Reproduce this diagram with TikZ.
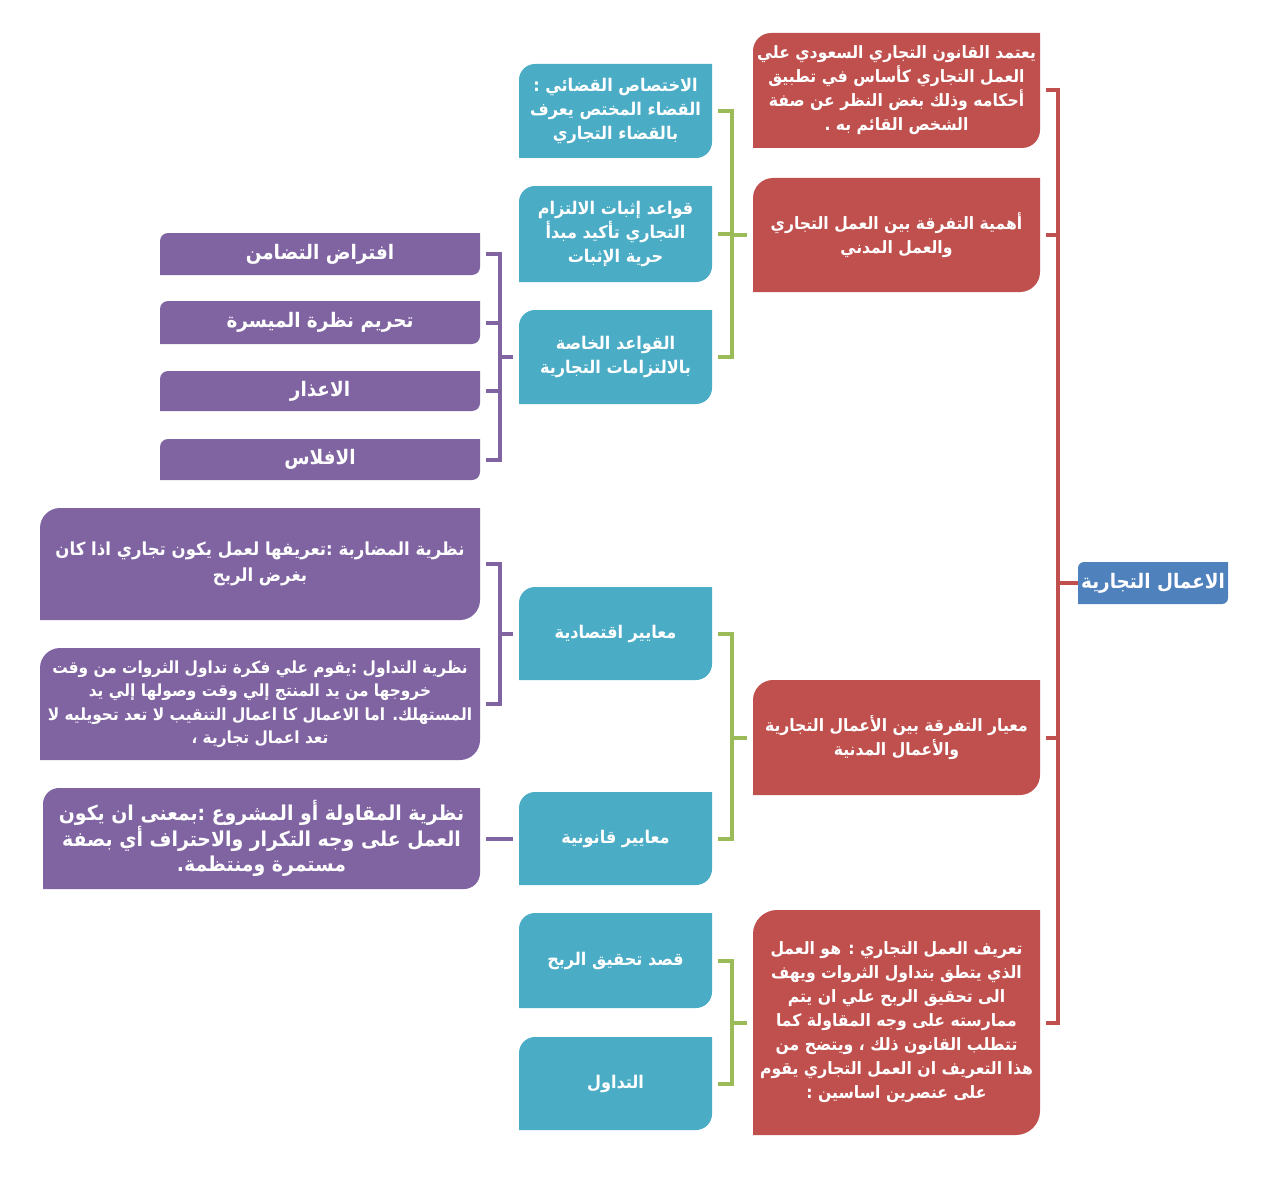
\documentclass[tikz,border=0pt]{standalone}
\usepackage{fontspec}
\newfontfamily\arabicfont[Script=Arabic,FakeStretch=0.92]{DejaVu Sans}
\TeXXeTstate=1
\usetikzlibrary{calc}
\definecolor{cred}{HTML}{C0504D}
\definecolor{ccyan}{HTML}{4BACC6}
\definecolor{cpurple}{HTML}{8064A2}
\definecolor{cgreen}{HTML}{9BBB59}
\definecolor{cblue}{HTML}{4F81BD}
\newcommand{\AR}[1]{\beginR #1\endR}
\newcommand{\fRoot}{\bfseries\fontsize{20}{24}\selectfont}
\newcommand{\fRed}{\bfseries\fontsize{17}{24}\selectfont}
\newcommand{\fCy}{\bfseries\fontsize{17.5}{24}\selectfont}
\newcommand{\fPs}{\bfseries\fontsize{20}{24}\selectfont}
\newcommand{\fPa}{\bfseries\fontsize{18}{26}\selectfont}
\newcommand{\fPb}{\bfseries\fontsize{16.7}{23.5}\selectfont}
\newcommand{\fPm}{\bfseries\fontsize{20.5}{25.5}\selectfont}
% #1 name, #2 colour, #3 radius, #4 x1, #5 y1, #6 x2, #7 y2, #8 font, #9 text
\newcommand{\leafbox}[9]{%
  \fill[#2] (#4,#5+#3) .. controls (#4,#5+0.45*#3) and (#4+0.45*#3,#5) .. (#4+#3,#5)
     -- (#6,#5) -- (#6,#7-#3) .. controls (#6,#7-0.45*#3) and (#6-0.45*#3,#7) .. (#6-#3,#7)
     -- (#4,#7) -- cycle;
  \node[boxtext, font=\arabicfont#8,
        minimum width={(#6-#4)*1pt}, minimum height={(#7-#5)*1pt}]
        (#1) at ({(#4+#6)/2},{(#5+#7)/2}) {#9};
}
\tikzset{
  boxtext/.style={text=white, align=center, inner sep=0pt},
  rline/.style={draw=cred, line width=4pt},
  gline/.style={draw=cgreen, line width=4pt},
  pline/.style={draw=cpurple, line width=4pt}
}
\begin{document}
\begin{tikzpicture}[x=1pt,y=-1pt]
\fill[white] (0,0) rectangle (1280,1196);
\useasboundingbox (0,0) rectangle (1280,1196);

% root
\leafbox{root}{cblue}{6}{1078}{562}{1228}{604}{\fRoot}{\AR{الاعمال التجارية}}

% red level
\leafbox{R1}{cred}{18}{753}{33}{1040}{148}{\fRed}{\AR{يعتمد القانون التجاري السعودي علي}\\\AR{العمل التجاري كأساس في تطبيق}\\\AR{أحكامه وذلك بغض النظر عن صفة}\\\AR{الشخص القائم به .}}
\leafbox{R2}{cred}{20}{753}{178}{1040}{292}{\fRed}{\AR{أهمية التفرقة بين العمل التجاري}\\\AR{والعمل المدني}}
\leafbox{R3}{cred}{20}{753}{680}{1040}{795}{\fRed}{\AR{معيار التفرقة بين الأعمال التجارية}\\\AR{والأعمال المدنية}}
\leafbox{R4}{cred}{24}{753}{910}{1040}{1135}{\fRed}{\AR{تعريف العمل التجاري :  هو العمل}\\\AR{الذي يتطق بتداول الثروات ويهف}\\\AR{الى تحقيق الربح علي ان يتم}\\\AR{ممارسته على وجه المقاولة  كما}\\\AR{تتطلب القانون ذلك ، ويتضح من}\\\AR{هذا التعريف ان العمل التجاري يقوم}\\\AR{على عنصرين اساسين :}}

% cyan level
\leafbox{C1}{ccyan}{16}{519}{64}{712}{158}{\fCy}{\AR{الاختصاص القضائي :}\\\AR{القضاء المختص يعرف}\\\AR{بالقضاء التجاري}}
\leafbox{C2}{ccyan}{16}{519}{186}{712}{282}{\fCy}{\AR{قواعد إثبات الالتزام}\\\AR{التجاري  تأكيد مبدأ}\\\AR{حرية الإثبات}}
\leafbox{C3}{ccyan}{16}{519}{310}{712}{404}{\fCy}{\AR{القواعد الخاصة}\\\AR{بالالتزامات التجارية}}
\leafbox{C4}{ccyan}{16}{519}{587}{712}{680}{\fCy}{\AR{معايير اقتصادية}}
\leafbox{C5}{ccyan}{16}{519}{792}{712}{885}{\fCy}{\AR{معايير قانونية}}
\leafbox{C6}{ccyan}{16}{519}{913}{712}{1008}{\fCy}{\AR{قصد تحقيق الربح}}
\leafbox{C7}{ccyan}{16}{519}{1037}{712}{1130}{\fCy}{\AR{التداول}}

% purple level
\leafbox{P1}{cpurple}{8}{160}{233}{480}{275}{\fPs}{\AR{افتراض التضامن}}
\leafbox{P2}{cpurple}{8}{160}{301}{480}{344}{\fPs}{\AR{تحريم نظرة الميسرة}}
\leafbox{P3}{cpurple}{8}{160}{371}{480}{411}{\fPs}{\AR{الاعذار}}
\leafbox{P4}{cpurple}{8}{160}{439}{480}{480}{\fPs}{\AR{الافلاس}}
\leafbox{P5}{cpurple}{20}{40}{508}{480}{620}{\fPa}{\AR{نظرية المضاربة  :تعريفها لعمل يكون تجاري اذا كان}\\\AR{بغرض الربح}}
\leafbox{P6}{cpurple}{20}{40}{648}{480}{760}{\fPb}{\AR{نظرية التداول :يقوم علي فكرة تداول الثروات من وقت}\\\AR{خروجها من يد المنتج  إلي وقت وصولها إلي يد}\\\AR{المستهلك. اما الاعمال كا اعمال التنقيب لا تعد تحويليه لا}\\\AR{تعد اعمال تجارية ،}}
\leafbox{P7}{cpurple}{16}{43}{788}{480}{889}{\fPm}{\AR{نظرية المقاولة أو المشروع :بمعنى ان يكون}\\\AR{العمل على وجه التكرار والاحتراف أي بصفة}\\\AR{مستمرة ومنتظمة.}}

% red bracket
\coordinate (rj) at ($(root.west)+(-20,0)$);
\draw[rline] (root.west) -- (rj);
\foreach \n in {R1,R2,R3,R4} \draw[rline] ([xshift=6pt]\n.east) -| (rj);

% green brackets
\coordinate (g1) at ($(R2.west)+(-21,0)$);
\draw[gline] (g1) -- ([xshift=-6pt]R2.west);
\foreach \n in {C1,C2,C3} \draw[gline] ([xshift=6pt]\n.east) -| (g1);
\coordinate (g2) at ($(R3.west)+(-21,0)$);
\draw[gline] (g2) -- ([xshift=-6pt]R3.west);
\foreach \n in {C4,C5} \draw[gline] ([xshift=6pt]\n.east) -| (g2);
\coordinate (g3) at ($(R4.west)+(-21,0)$);
\draw[gline] (g3) -- ([xshift=-6pt]R4.west);
\foreach \n in {C6,C7} \draw[gline] ([xshift=6pt]\n.east) -| (g3);

% purple brackets
\coordinate (p1) at ($(C3.west)+(-19,0)$);
\draw[pline] (p1) -- ([xshift=-6pt]C3.west);
\foreach \n in {P1,P2,P3,P4} \draw[pline] ([xshift=6pt]\n.east) -| (p1);
\coordinate (p2) at ($(C4.west)+(-19,0)$);
\draw[pline] (p2) -- ([xshift=-6pt]C4.west);
\foreach \n in {P5,P6} \draw[pline] ([xshift=6pt]\n.east) -| (p2);
\draw[pline] ([xshift=6pt]P7.east) -- ([xshift=-6pt]C5.west);
\end{tikzpicture}
\end{document}
